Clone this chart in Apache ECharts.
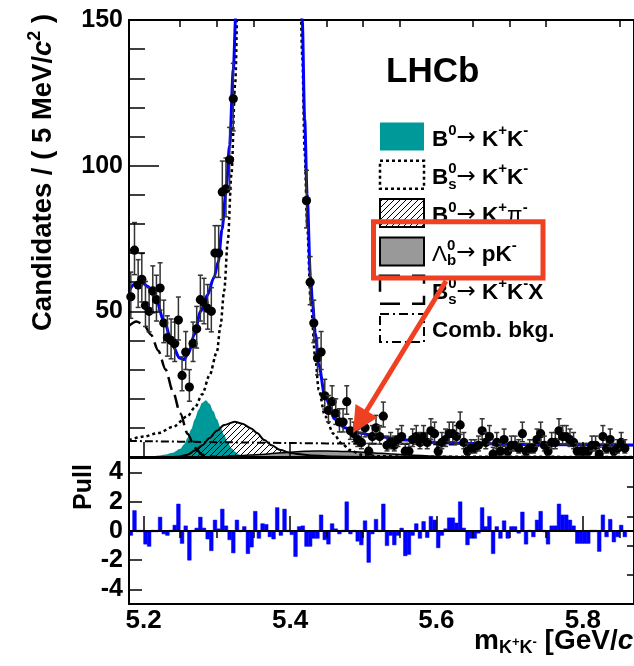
<!DOCTYPE html>
<html>
<head>
<meta charset="utf-8">
<script src="https://cdn.jsdelivr.net/npm/echarts@6/dist/echarts.min.js"></script>
<style>
html, body { margin: 0; padding: 0; background: #fff; }
#main { width: 634px; height: 666px; }
</style>
</head>
<body>
<div id="main"></div>
<script>
var FONT = '"Liberation Sans", Arial, Helvetica, sans-serif';

// histogram binning : 5 MeV bins starting at 5.18 GeV
var binStart = 5.18, binWidth = 0.005;

// candidates per bin (null = off scale, above 150)
var counts = [
	55, 71, 59, 61, 52, 50, 57, 54, 58, 46, 41, 40, 39, 47, 28, 36, 24, 39, 44, 54,
	53, 51, 50, 70, 70, 91, 92, 102, 123,
	null, null, null, null, null, null, null, null, null, null,
	null, null, null, null, null, null, null, null, null,
	88, 60, 46, 34, 36, 21, 16, 19, 15, 12, 12, 19,
	9, 8, 6, 5, 10, 2, 7, 10, 7, 14, 4, 5, 4, 6, 7, 2, 2, 6, 7, 5,
	7, 5, 9, 8, 2, 5, 6, 8, 8, 7, 11, 5,
	2, 3, 3, 4, 9, 5, 7, 1, 5, 2, 6, 2, 4, 4, 3, 8, 2, 3, 3, 6,
	8, 4, 2, 5, 5, 9, 7, 7, 6, 5, 2, 2, 2, 2, 4, 4, 1, 7, 3, 6,
	2, 3, 5, 3
];

// pull per bin
var pulls = [
	-0.3, 1.4, 0.1, 0.1, -0.9, -1.05, 0.05, -0.05, 0.95, -0.2, -0.3, 0.05, 0.4, 1.85, -0.85, 0.35, -2.0, -0.05, 0.2, 0.95,
	0.2, -0.55, -1.35, 0.75, 0.15, 1.5, 0.35, -0.6, -1.5, 0.75, -0.1, 0.3, -1.55, -1.1, 1.35, -0.5, 0.5, 0.45, -0.4, -0.55,
	1.6, -0.3, 1.5, 0, -0.25, -1.75, 0.3, 0.35, -1.05, -1.05, -0.5, -0.5, 1.1, -0.6, -0.9, 0.5, 0.15, -0.2, 0.1, 2.0,
	-0.2, 0.05, -0.7, -0.95, 0.7, -2.15, -0.2, 0.8, -0.1, 1.85, -1.0, -0.3, -0.95, -0.3, 0.2, -1.7, -1.6, -0.3, 0.5, -0.5,
	0.65, -0.45, 1.0, 0.75, -1.15, -0.3, 0.15, 0.9, 0.9, 0.55, 2.0, 0.2, -0.95, -0.5, -0.5, -0.15, 1.6, 0.3, 1.0, -1.55,
	0.3, -0.5, 0.7, -0.5, 0.3, 0.3, -0.15, 1.3, -0.9, -0.1, -0.4, 0.75, 1.35, -0.1, -0.9, 0.35, 0.35, 1.85, 1.1, 1.1,
	0.75, 0.35, -0.85, -0.85, -0.85, -0.85, 0, 0, -1.4, 1.1, -0.4, 0.8, -0.75, -0.4, 0.4, -0.4
];

// fit components [mass, candidates]
var fitTotal = [
	[5.18, 57], [5.188, 59.5], [5.197, 60], [5.206, 58.5], [5.217, 54], [5.228, 46.5], [5.240, 38],
	[5.249, 34], [5.255, 33.4], [5.262, 36], [5.269, 42], [5.278, 50], [5.287, 55.5], [5.296, 61.5],
	[5.302, 67], [5.307, 78], [5.3125, 91], [5.3175, 107], [5.3225, 133], [5.326, 152], [5.330, 190], [5.335, 250],
	[5.37, '-'],
	[5.405, 250], [5.41, 205], [5.4135, 170], [5.4167, 150], [5.420, 116], [5.4234, 90], [5.4279, 62],
	[5.431, 52], [5.4346, 42.4], [5.439, 32], [5.448, 20.5], [5.4615, 13], [5.475, 10], [5.493, 8.3],
	[5.52, 7], [5.56, 5.8], [5.60, 5.0], [5.65, 4.6], [5.72, 4.3], [5.87, 4.1]
];
var bsKK = [
	[5.18, 5.8], [5.20, 7], [5.22, 8.2], [5.24, 10.3], [5.26, 14], [5.27, 17], [5.28, 21.5], [5.29, 28],
	[5.30, 36], [5.305, 45], [5.31, 57], [5.315, 74], [5.32, 97], [5.325, 128], [5.33, 175], [5.335, 240],
	[5.37, '-'],
	[5.405, 240], [5.41, 200], [5.4135, 165], [5.4167, 138], [5.42, 105], [5.4234, 80], [5.428, 54],
	[5.4346, 34], [5.4392, 23], [5.448, 14], [5.4594, 8], [5.4705, 4.7], [5.4817, 2.4], [5.4974, 0.8],
	[5.52, 0.3], [5.56, 0.1], [5.87, 0]
];
var b0KK = [
	[5.20, 0], [5.21, 0.2], [5.22, 0.5], [5.23, 0.9], [5.24, 1.5], [5.25, 2.8], [5.255, 4.3], [5.26, 6.5],
	[5.265, 9.5], [5.27, 13], [5.275, 16.2], [5.28, 18.6], [5.285, 19.5], [5.29, 18.3], [5.295, 15.8],
	[5.30, 13], [5.305, 10.2], [5.31, 7.5], [5.315, 5], [5.32, 3], [5.325, 1.8], [5.33, 0.9], [5.34, 0.2], [5.35, 0]
];
var b0Kpi = [
	[5.24, 0], [5.25, 0.2], [5.26, 0.8], [5.27, 2.2], [5.28, 4], [5.29, 6.5], [5.30, 9], [5.31, 11],
	[5.3245, 12.1], [5.335, 11.4], [5.347, 9.8], [5.355, 8.2], [5.365, 5.8], [5.375, 4], [5.387, 2.4],
	[5.40, 1.5], [5.41, 1.0], [5.43, 0.5], [5.46, 0.2], [5.50, 0]
];
var lbPK = [
	[5.30, 0], [5.33, 0.4], [5.36, 0.9], [5.39, 1.5], [5.42, 2.0], [5.45, 2.1], [5.48, 1.9], [5.51, 1.5],
	[5.54, 1.0], [5.57, 0.6], [5.60, 0.3], [5.64, 0.1], [5.68, 0]
];
var bsKKX = [
	[5.18, 45], [5.19, 46.5], [5.20, 45.5], [5.21, 42], [5.22, 36.5], [5.23, 30], [5.24, 22.5],
	[5.25, 15], [5.26, 8], [5.27, 3.2], [5.28, 0.8], [5.29, 0.2], [5.30, 0]
];
var combBkg = [
	[5.18, 5.5], [5.30, 5.1], [5.40, 4.8], [5.50, 4.55], [5.60, 4.35], [5.70, 4.2], [5.87, 4.0]
];

// axis ticks
var xMajorTicks = [5.2, 5.4, 5.6, 5.8];
var xMinorTicks = [5.25, 5.3, 5.35, 5.45, 5.5, 5.55, 5.65, 5.7, 5.75, 5.85];
var pullTicks = [-4, -2, 0, 2, 4];
var pullMinorTicks = [-3, -1, 1, 3];

var myChart;

window.onload = function () {
	myChart = echarts.init(document.getElementById('main'));
	myChart.setOption(buildOption());
};

// poisson 68% interval (Gehrels approx.)
function poissonLow(n) {
	if (n <= 0) return 0;
	return n * Math.pow(1 - 1 / (9 * n) - 1 / (3 * Math.sqrt(n)), 3);
}
function poissonHigh(n) {
	return n + Math.sqrt(n + 0.75) + 1;
}

function hatchPattern() {
	var c = document.createElement('canvas');
	c.width = 6; c.height = 6;
	var g = c.getContext('2d');
	g.strokeStyle = '#000';
	g.lineWidth = 1;
	g.beginPath();
	g.moveTo(0, 6); g.lineTo(6, 0);
	g.moveTo(-1, 1); g.lineTo(1, -1);
	g.moveTo(5, 7); g.lineTo(7, 5);
	g.stroke();
	return c;
}

//text with super/subscripts
var measureCtx = document.createElement('canvas').getContext('2d');
function formula(x, y, rot, parts) {
	var kids = [], cx = 0, lastX = 0, lastW = 0;
	for (var k = 0; k < parts.length; k++) {
		var p = parts[k];
		var font = (p.i ? 'italic ' : '') + (p.w || 'bold') + ' ' + p.s + 'px ' + (p.f || FONT);
		measureCtx.font = font;
		var w = measureCtx.measureText(p.t).width;
		var px = p.stack ? lastX : cx;
		kids.push({
			type: 'text', x: px, y: (p.dy || 0) - 0.31 * p.s,
			style: { text: p.t, font: font, fill: '#000', align: 'left', verticalAlign: 'middle', textAlign: 'left', textVerticalAlign: 'middle' }
		});
		if (p.stack) {
			lastW = Math.max(lastW, w);
			cx = lastX + lastW;
		} else {
			lastX = px; lastW = w; cx = px + w;
		}
	}
	return { type: 'group', x: x, y: y, rotation: rot || 0, children: kids, z: 100 };
}

function legendRow(i, parts) {
	return formula(432, 146.5 + i * 38.3, 0, parts);
}
function legendBox(i, style) {
	return {
		type: 'rect', z: 90,
		shape: { x: 380, y: 146.5 + i * 38.3 - 24, width: 44, height: 28 },
		style: style
	};
}

function buildOption() {
	var hatch = hatchPattern();
	var points = [];
	for (var i = 0; i < counts.length; i++) {
		if (counts[i] == null) continue;
		var n = counts[i];
		points.push([binStart + (i + 0.5) * binWidth, n, poissonLow(n), poissonHigh(n)]);
	}
	var pullBars = [];
	for (var j = 0; j < pulls.length; j++) {
		pullBars.push([binStart + (j + 0.5) * binWidth, pulls[j]]);
	}

	var S = 22.5, s = 15, up = -11, dn = 4.5;
	var arrow = { t: '\u2192', s: 23, w: 'normal', f: '"DejaVu Sans", sans-serif', dy: -1 };

	var tickStyle = { color: '#000', width: 1.5 };
	var labelStyle = { fontFamily: FONT, fontWeight: 'bold', color: '#000' };

	return {
		animation: false,
		backgroundColor: '#fff',
		grid: [
			{ left: 129, top: 20, width: 513, height: 437, show: true, borderColor: '#000', borderWidth: 2, backgroundColor: 'transparent' },
			{ left: 129, top: 458, width: 513, height: 146, show: true, borderColor: '#000', borderWidth: 2, backgroundColor: 'transparent' }
		],
		xAxis: [
			{
				gridIndex: 0, type: 'value', min: 5.18, max: 5.87, z: 10,
				axisLine: { lineStyle: { color: '#000', width: 2 } },
				axisTick: { inside: true, length: 15, customValues: xMajorTicks, lineStyle: tickStyle },
				axisLabel: { show: false }, splitLine: { show: false }
			},
			{
				gridIndex: 0, type: 'value', min: 5.18, max: 5.87, z: 10,
				axisLine: { show: false },
				axisTick: { inside: true, length: 7, customValues: xMinorTicks, lineStyle: tickStyle },
				axisLabel: { show: false }, splitLine: { show: false }
			},
			{
				gridIndex: 1, type: 'value', min: 5.18, max: 5.87, z: 10,
				axisLine: { lineStyle: { color: '#000', width: 2 } },
				axisTick: { inside: true, length: 15, customValues: xMajorTicks, lineStyle: tickStyle },
				axisLabel: Object.assign({ customValues: xMajorTicks, margin: 4, fontSize: 26, formatter: function (v) { return v.toFixed(1); } }, labelStyle),
				splitLine: { show: false }
			},
			{
				gridIndex: 1, type: 'value', min: 5.18, max: 5.87, z: 10,
				axisLine: { show: false },
				axisTick: { inside: true, length: 7, customValues: xMinorTicks, lineStyle: tickStyle },
				axisLabel: { show: false }, splitLine: { show: false }
			}
		],
		yAxis: [
			{
				gridIndex: 0, type: 'value', min: 0, max: 150, interval: 50, z: 10,
				axisLine: { show: true, lineStyle: { color: '#000', width: 2 } },
				axisTick: { inside: true, length: 30, lineStyle: tickStyle },
				minorTick: { show: true, splitNumber: 5, length: 16, lineStyle: tickStyle },
				splitLine: { show: false }, minorSplitLine: { show: false },
				axisLabel: Object.assign({ margin: 6, fontSize: 25, formatter: function (v) { return v === 0 ? '' : v; } }, labelStyle)
			},
			{
				gridIndex: 1, type: 'value', min: -5, max: 5, interval: 1, z: 10,
				axisLine: { show: true, lineStyle: { color: '#000', width: 2 } },
				axisTick: { inside: true, length: 13, customValues: pullTicks, lineStyle: tickStyle },
				splitLine: { show: false },
				axisLabel: Object.assign({ customValues: pullTicks, margin: 6, fontSize: 25 }, labelStyle)
			},
			{
				gridIndex: 1, type: 'value', min: -5, max: 5, interval: 1, z: 10,
				axisLine: { show: false },
				axisTick: { inside: true, length: 7, customValues: pullMinorTicks, lineStyle: tickStyle },
				splitLine: { show: false }, axisLabel: { show: false }
			}
		],
		series: [
			{ // B0 -> K+K-
				type: 'line', data: b0KK, xAxisIndex: 0, yAxisIndex: 0, smooth: 0.3, smoothMonotone: 'x',
				symbol: 'none', z: 2, lineStyle: { width: 0 }, areaStyle: { color: '#00999a', opacity: 1 }
			},
			{ // B0 -> K+pi-
				type: 'line', data: b0Kpi, xAxisIndex: 0, yAxisIndex: 0, smooth: 0.3, smoothMonotone: 'x',
				symbol: 'none', z: 3, lineStyle: { color: '#000', width: 2 },
				areaStyle: { color: { image: hatch, repeat: 'repeat' }, opacity: 1 }
			},
			{ // Lb -> pK-
				type: 'line', data: lbPK, xAxisIndex: 0, yAxisIndex: 0, smooth: 0.3, smoothMonotone: 'x',
				symbol: 'none', z: 3, lineStyle: { color: '#000', width: 1.5 },
				areaStyle: { color: '#999', opacity: 1 }
			},
			{ // Bs -> K+K-X
				type: 'line', data: bsKKX, xAxisIndex: 0, yAxisIndex: 0, smooth: 0.3, smoothMonotone: 'x',
				symbol: 'none', z: 4, lineStyle: { color: '#000', width: 2.5, type: [13, 6] }
			},
			{ // Bs -> K+K-
				type: 'line', data: bsKK, xAxisIndex: 0, yAxisIndex: 0, smooth: 0.3, smoothMonotone: 'x',
				symbol: 'none', z: 4, connectNulls: false, lineStyle: { color: '#000', width: 2.5, type: [3, 3] }
			},
			{ // comb. bkg
				type: 'line', data: combBkg, xAxisIndex: 0, yAxisIndex: 0, smooth: 0.3,
				symbol: 'none', z: 4, lineStyle: { color: '#000', width: 2, type: [8, 3, 2, 3] }
			},
			{ // total fit
				type: 'line', data: fitTotal, xAxisIndex: 0, yAxisIndex: 0, smooth: 0.3, smoothMonotone: 'x',
				symbol: 'none', z: 5, connectNulls: false, lineStyle: { color: '#0000ff', width: 3 }
			},
			{ // data
				type: 'custom', xAxisIndex: 0, yAxisIndex: 0, z: 6, data: points,
				encode: { x: 0, y: [1, 2, 3] },
				renderItem: function (params, api) {
					var x = api.value(0);
					var c = api.coord([x, api.value(1)]);
					var lo = api.coord([x, api.value(2)]);
					var hi = api.coord([x, api.value(3)]);
					var st = { stroke: '#333', lineWidth: 1.5 };
					return {
						type: 'group', children: [
							{ type: 'line', shape: { x1: c[0], y1: hi[1], x2: c[0], y2: lo[1] }, style: st },
							{ type: 'line', shape: { x1: c[0] - 2.5, y1: hi[1], x2: c[0] + 2.5, y2: hi[1] }, style: st },
							{ type: 'line', shape: { x1: c[0] - 2.5, y1: lo[1], x2: c[0] + 2.5, y2: lo[1] }, style: st },
							{ type: 'circle', shape: { cx: c[0], cy: c[1], r: 4.6 }, style: { fill: '#000' } }
						]
					};
				}
			},
			{ // pulls
				type: 'custom', xAxisIndex: 2, yAxisIndex: 1, z: 2, data: pullBars,
				encode: { x: 0, y: 1 },
				renderItem: function (params, api) {
					var c0 = api.coord([api.value(0), 0]);
					var c1 = api.coord([api.value(0), api.value(1)]);
					var w = api.size([binWidth, 0])[0];
					var top = Math.min(c0[1], c1[1]), h = Math.abs(c1[1] - c0[1]);
					if (h < 1.5) { top = c0[1] - 0.75; h = 1.5; }
					return {
						type: 'rect', shape: { x: c0[0] - w / 2, y: top, width: w, height: h },
						style: { fill: '#0000ff', stroke: '#0000ff', lineWidth: 0.5 }
					};
				}
			}
		],
		graphic: [
			formula(386, 83, 0, [{ t: 'LHCb', s: 35 }]),
			formula(52, 331, Math.PI / 2, [
				{ t: 'Candidates / ( 5 MeV/', s: 27.5 }, { t: 'c', s: 27.5, i: true },
				{ t: '2', s: 18, dy: -11.5 }, { t: ' )', s: 27.5 }
			]),
			formula(92, 510, Math.PI / 2, [{ t: 'Pull', s: 25 }]),
			formula(474, 650, 0, [
				{ t: 'm', s: 28 }, { t: 'K', s: 18, dy: 4 }, { t: '+', s: 13, dy: -4 },
				{ t: 'K', s: 18, dy: 4 }, { t: '-', s: 13, dy: -4 },
				{ t: ' [GeV/', s: 28 }, { t: 'c', s: 28, i: true }, { t: '2', s: 18, dy: -12 }, { t: ']', s: 28 }
			]),
			// legend
			legendBox(0, { fill: '#00999a' }),
			legendBox(1, { fill: '#fff', stroke: '#000', lineWidth: 2.5, lineDash: [3, 3] }),
			legendBox(2, { fill: { image: hatch, repeat: 'repeat' }, stroke: '#000', lineWidth: 2 }),
			legendBox(3, { fill: '#999', stroke: '#000', lineWidth: 2 }),
			legendBox(4, { fill: '#fff', stroke: '#000', lineWidth: 2.5, lineDash: [20, 12] }),
			legendBox(5, { fill: '#fff', stroke: '#000', lineWidth: 2, lineDash: [9, 4, 2, 4] }),
			legendRow(0, [{ t: 'B', s: S }, { t: '0', s: s, dy: up }, arrow, { t: ' K', s: S }, { t: '+', s: s, dy: up }, { t: 'K', s: S }, { t: '-', s: s, dy: up }]),
			legendRow(1, [{ t: 'B', s: S }, { t: '0', s: s, dy: up }, { t: 's', s: s, dy: dn, stack: true }, arrow, { t: ' K', s: S }, { t: '+', s: s, dy: up }, { t: 'K', s: S }, { t: '-', s: s, dy: up }]),
			legendRow(2, [{ t: 'B', s: S }, { t: '0', s: s, dy: up }, arrow, { t: ' K', s: S }, { t: '+', s: s, dy: up }, { t: '\u03c0', s: S, w: 'normal' }, { t: '-', s: s, dy: up }]),
			legendRow(3, [{ t: '\u039b', s: S, w: 'normal' }, { t: '0', s: s, dy: up }, { t: 'b', s: s, dy: dn, stack: true }, arrow, { t: ' pK', s: S }, { t: '-', s: s, dy: up }]),
			legendRow(4, [{ t: 'B', s: S }, { t: '0', s: s, dy: up }, { t: 's', s: s, dy: dn, stack: true }, arrow, { t: ' K', s: S }, { t: '+', s: s, dy: up }, { t: 'K', s: S }, { t: '-', s: s, dy: up }, { t: 'X', s: S }]),
			legendRow(5, [{ t: 'Comb. bkg.', s: S }]),
			// highlight box and arrow
			{
				type: 'rect', z: 200, shape: { x: 373.5, y: 221.8, width: 169.5, height: 56.2 },
				style: { fill: 'none', stroke: '#f04022', lineWidth: 5 }
			},
			{
				type: 'line', z: 200, shape: { x1: 446, y1: 281, x2: 364, y2: 415 },
				style: { stroke: '#f04022', lineWidth: 5 }
			},
			{
				type: 'polygon', z: 200, shape: { points: [[353, 433], [355.5, 404], [377.7, 417.6]] },
				style: { fill: '#f04022' }
			}
		]
	};
}
</script>
</body>
</html>
